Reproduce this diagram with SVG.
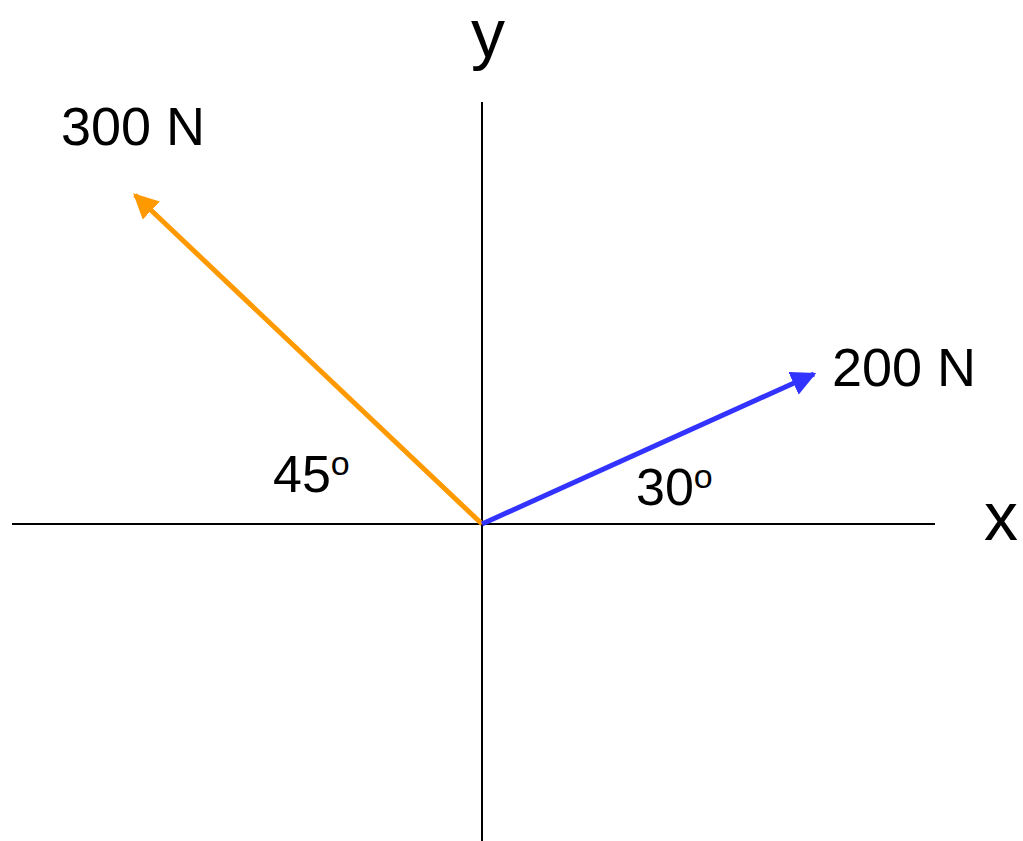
<svg xmlns="http://www.w3.org/2000/svg" width="1023" height="841" viewBox="0 0 1023 841">
<style>
text{font-family:"Liberation Sans",Arial,sans-serif;fill:#000}
.lbl{font-size:54px}
.ang{font-size:52px}
.ax{font-size:68px}
.axis{stroke:#000;stroke-width:2;fill:none}
</style>
<defs>
<marker id="ao" viewBox="0 0 10 10" refX="9" refY="5" markerWidth="5" markerHeight="5" orient="auto" markerUnits="strokeWidth"><path d="M0,0L10,5L0,10z" fill="#FF9900"/></marker>
<marker id="ab" viewBox="0 0 10 10" refX="9" refY="5" markerWidth="5" markerHeight="5" orient="auto" markerUnits="strokeWidth"><path d="M0,0L10,5L0,10z" fill="#3333FF"/></marker>
</defs>
<rect width="1023" height="841" fill="#fff"/>
<g id="axes">
<line class="axis" x1="12" y1="524" x2="935" y2="524"/>
<line class="axis" x1="482" y1="102" x2="482" y2="841"/>
</g>
<g id="connectors">
<line x1="482" y1="524" x2="135" y2="195" stroke="#FF9900" stroke-width="5" marker-end="url(#ao)"/>
<line x1="482" y1="524" x2="814" y2="374" stroke="#3333FF" stroke-width="5" marker-end="url(#ab)"/>
</g>
<g id="labels">
<text class="ax" x="471" y="57">y</text>
<text class="ax" x="984" y="540">x</text>
<text class="lbl" x="61" y="145">300 N</text>
<text class="lbl" x="832" y="386">200 N</text>
<text class="ang" x="273" y="492">45<tspan font-size="34" dy="-17">o</tspan></text>
<text class="ang" x="636" y="505">30<tspan font-size="34" dy="-17">o</tspan></text>
</g>
</svg>
